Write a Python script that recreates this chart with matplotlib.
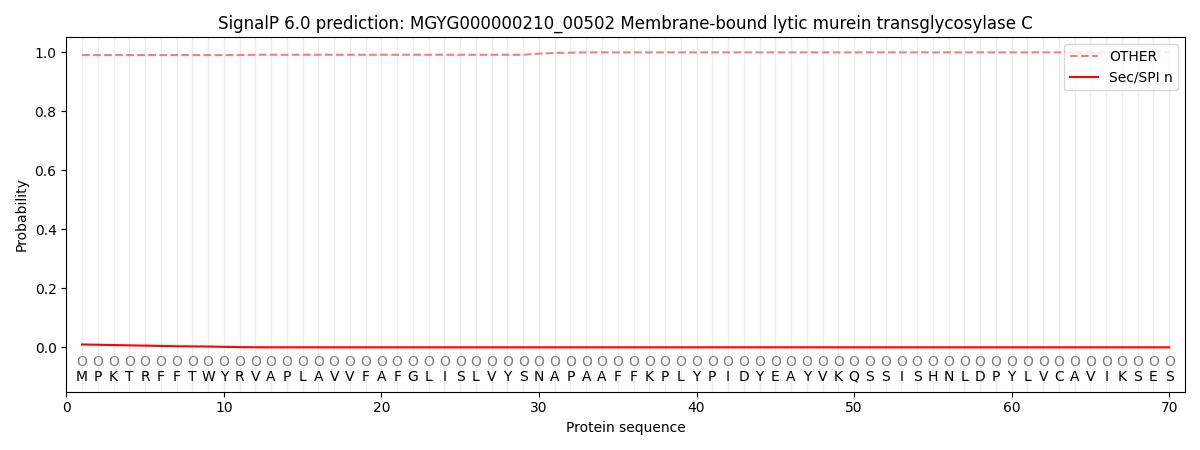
import matplotlib
matplotlib.use("Agg")
import matplotlib.pyplot as plt
import numpy as np

sequence = list("MPKTRFFTWYRVAPLAVVFAFGLISLVYSNAPAAFFKPLYPIDYEAYVKQSSISHNLDPYLVCAVIKSES")
positions = list(range(1, len(sequence) + 1))
labels = ["O"] * len(sequence)

other = [0.990, 0.990, 0.990, 0.990, 0.990, 0.990, 0.990, 0.990, 0.990, 0.990,
         0.990, 0.991, 0.991, 0.991, 0.991, 0.991, 0.991, 0.991, 0.991, 0.991,
         0.991, 0.991, 0.991, 0.991, 0.991, 0.991, 0.991, 0.991, 0.991, 0.995,
         0.997, 0.998, 0.999, 0.999, 0.999, 0.999, 0.999, 0.999, 0.999, 0.999,
         0.999, 0.999, 0.999, 0.999, 0.999, 0.999, 0.999, 0.999, 0.999, 0.999,
         0.999, 0.999, 0.999, 0.999, 0.999, 0.999, 0.999, 0.999, 0.999, 0.999,
         0.999, 0.999, 0.999, 0.999, 0.999, 0.999, 0.999, 0.999, 0.999, 0.999]
sec_spi_n = [0.010, 0.009, 0.008, 0.007, 0.006, 0.005, 0.004, 0.0035, 0.003, 0.002,
             0.001, 0.0005] + [0.0003] * 58

fig, ax = plt.subplots(figsize=(12, 4.5), dpi=100)
for p in positions:
    ax.axvline(p, color="#e0e0e0", linewidth=1, alpha=0.6, zorder=0)
ax.plot(positions, other, linestyle="--", color="#f08080", label="OTHER")
ax.plot(positions, sec_spi_n, color="red", label="Sec/SPI n")
for p, aa, lab in zip(positions, sequence, labels):
    ax.text(p, -0.05, lab, ha="center", va="center", fontsize=10, color="#808080")
    ax.text(p, -0.1, aa, ha="center", va="center", fontsize=10, color="black")
ax.set_xlim(0, 71)
ax.set_ylim(-0.15, 1.05)
ax.set_xlabel("Protein sequence")
ax.set_ylabel("Probability")
ax.set_title("SignalP 6.0 prediction: MGYG000000210_00502 Membrane-bound lytic murein transglycosylase C")
ax.legend(loc="upper right")
fig.tight_layout()
fig.savefig("out.png")
